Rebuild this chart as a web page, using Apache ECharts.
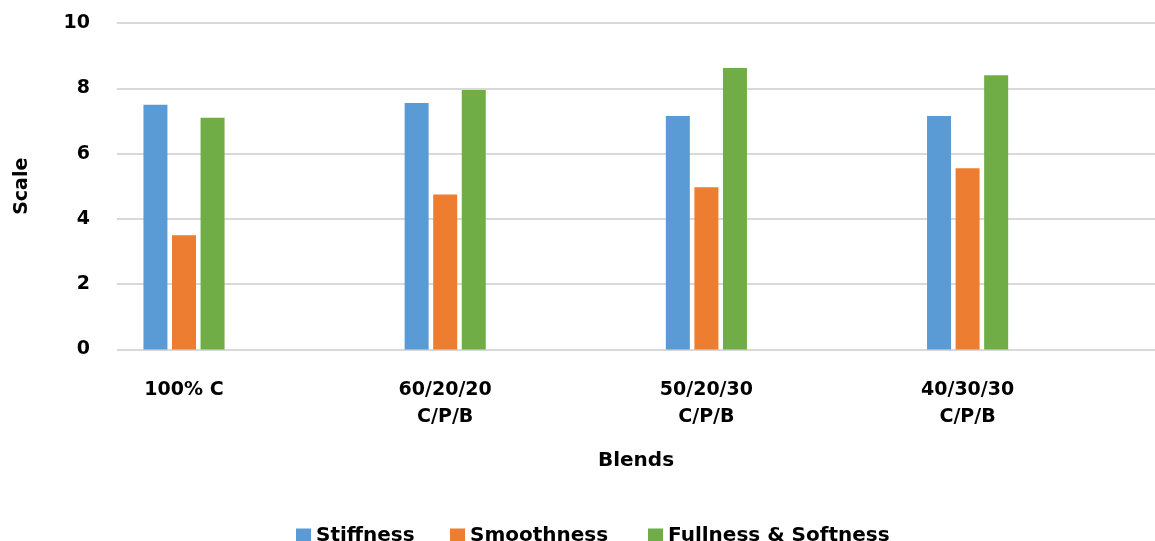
<!DOCTYPE html>
<html>
<head>
<meta charset="utf-8">
<script src="https://cdn.jsdelivr.net/npm/echarts@6/dist/echarts.min.js"></script>
<style>
html,body{margin:0;padding:0;background:#fff;}
#chart{width:1155px;height:541px;}
</style>
</head>
<body>
<div id="chart"></div>
<script>
const categories = ['100% C', '60/20/20\nC/P/B', '50/20/30\nC/P/B', '40/30/30\nC/P/B'];
const seriesNames = ['Stiffness', 'Smoothness', 'Fullness & Softness'];
const stiffness = [7.5, 7.55, 7.15, 7.15];
const smoothness = [3.5, 4.75, 4.97, 5.55];
const fullnessSoftness = [7.1, 7.95, 8.62, 8.4];
const yTicks = [0, 2, 4, 6, 8, 10];

const colors = ['#5B9BD5', '#ED7D31', '#70AD47'];
const FONT = 'DejaVu Sans';

const chart = echarts.init(document.getElementById('chart'));
const legendBase = {
  top: 521, itemWidth: 15, itemHeight: 15, itemGap: 0, icon: 'rect', selectedMode: false,
  textStyle: { fontFamily: FONT, fontWeight: 'bold', fontSize: 20, color: '#000' }
};
chart.setOption({
  animation: false,
  color: colors,
  legend: [
    Object.assign({}, legendBase, { left: 291, data: [seriesNames[0]] }),
    Object.assign({}, legendBase, { left: 445, data: [seriesNames[1]] }),
    Object.assign({}, legendBase, { left: 643, data: [seriesNames[2]] })
  ],
  grid: [
    { left: 117, right: 0, top: 23, bottom: 191.5 },
    { left: 53.4, right: 56.8, top: 23, bottom: 191.5 }
  ],
  xAxis: [
    {
      gridIndex: 0, type: 'value', min: 0, max: 1,
      axisLine: { show: false }, axisTick: { show: false }, axisLabel: { show: false }, splitLine: { show: false },
      name: 'Blends', nameLocation: 'middle', nameGap: 101,
      nameTextStyle: { fontFamily: FONT, fontWeight: 'bold', fontSize: 20, color: '#000' }
    },
    {
      gridIndex: 1, type: 'category', data: categories,
      axisLine: { show: false }, axisTick: { show: false },
      axisLabel: { fontFamily: FONT, fontWeight: 'bold', fontSize: 19, color: '#000', lineHeight: 27, margin: 27, interval: 0 }
    }
  ],
  yAxis: [
    {
      gridIndex: 0, type: 'value', min: yTicks[0], max: yTicks[yTicks.length - 1], interval: 2,
      axisLine: { show: false }, axisTick: { show: false },
      axisLabel: { fontFamily: FONT, fontWeight: 'bold', fontSize: 19, color: '#000', margin: 27 },
      splitLine: { lineStyle: { color: '#d9d9d9', width: 2 } },
      name: 'Scale', nameLocation: 'middle', nameGap: 85, nameRotate: 90,
      nameTextStyle: { fontFamily: FONT, fontWeight: 'bold', fontSize: 19, color: '#000' }
    },
    {
      gridIndex: 1, type: 'value', min: 0, max: 10, interval: 2, show: false
    }
  ],
  series: [
    { name: seriesNames[0], type: 'bar', xAxisIndex: 1, yAxisIndex: 1, data: stiffness, barWidth: 24, barGap: '19%' },
    { name: seriesNames[1], type: 'bar', xAxisIndex: 1, yAxisIndex: 1, data: smoothness, barWidth: 24, barGap: '19%' },
    { name: seriesNames[2], type: 'bar', xAxisIndex: 1, yAxisIndex: 1, data: fullnessSoftness, barWidth: 24, barGap: '19%' }
  ]
});
</script>
</body>
</html>
